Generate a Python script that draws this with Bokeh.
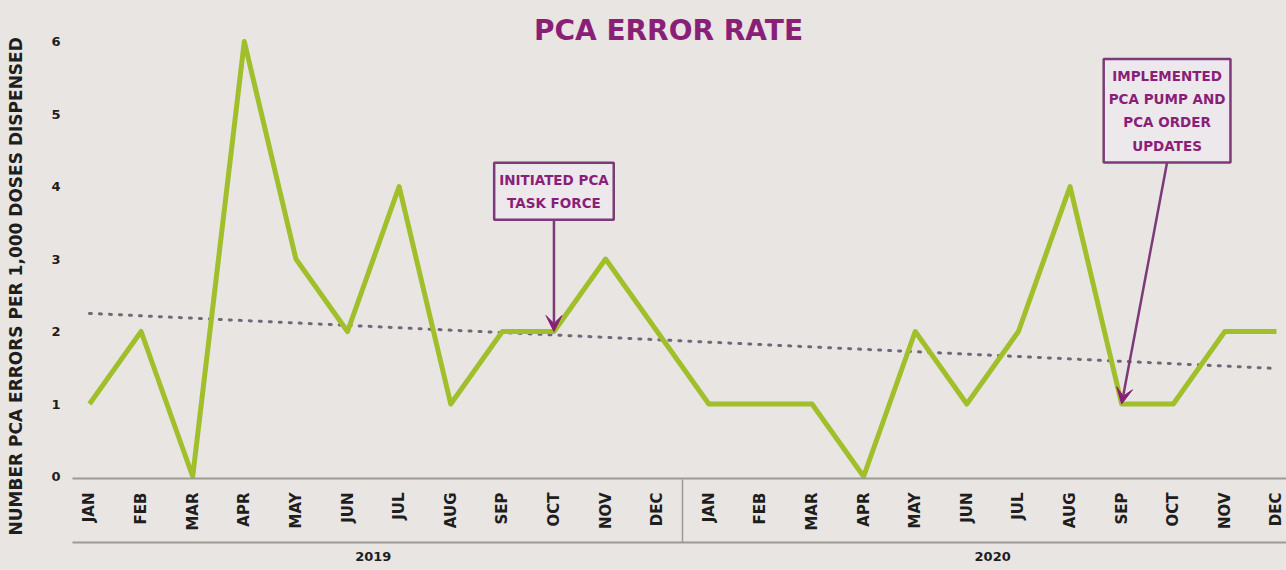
import math
from bokeh.plotting import figure
from bokeh.models import Range1d, FixedTicker, LinearAxis, Label, Arrow, VeeHead, Title
from bokeh.embed import file_html
from bokeh.resources import INLINE

# ---------------- data ----------------
months_2019 = ["JAN", "FEB", "MAR", "APR", "MAY", "JUN", "JUL", "AUG", "SEP", "OCT", "NOV", "DEC"]
months_2020 = ["JAN", "FEB", "MAR", "APR", "MAY", "JUN", "JUL", "AUG", "SEP", "OCT", "NOV", "DEC"]
years = ["2019", "2020"]
errors_2019 = [1, 2, 0, 6, 3, 2, 4, 1, 2, 2, 3, 2]
errors_2020 = [1, 1, 1, 0, 2, 1, 2, 4, 1, 1, 2, 2]
y_ticks = [0, 1, 2, 3, 4, 5, 6]
trend_start = 2.25   # dotted trend line, read at JAN 2019
trend_end = 1.49     # dotted trend line, read at DEC 2020

# annotations: text, target month index, target value, box anchor (bottom centre)
anno_text = ["INITIATED PCA\nTASK FORCE", "IMPLEMENTED\nPCA PUMP AND\nPCA ORDER\nUPDATES"]
anno_target_x = [9, 20]
anno_target_y = [2, 1]
anno_box_x = [9, 20.88]
anno_box_y = [3.54, 4.33]

title_text = "PCA ERROR RATE"
y_title = "NUMBER PCA ERRORS PER 1,000 DOSES DISPENSED"

# ---------------- derived ----------------
month_labels = months_2019 + months_2020
errors = errors_2019 + errors_2020
x = list(range(len(errors)))
n1 = len(months_2019)
year_centers = [(n1 - 1) / 2, n1 + (len(months_2020) - 1) / 2]
separator = [n1 - 0.5]

# ---------------- style ----------------
BG = "#e8e5e3"
GREEN = "#a0bf2a"
PURPLE = "#8a1f78"
BOX_PURPLE = "#7c3a78"
TREND = "#6f6878"
AXIS_GRAY = "#9c9a98"
TEXT = "#1e1e1e"
FONT = "DejaVu Sans"

p = figure(
    width=1286, height=570,
    x_range=Range1d(-0.329, 23.194), y_range=Range1d(-0.0276, 6.566),
    output_backend="svg", toolbar_location=None,
    min_border_left=72, min_border_right=0, min_border_top=0, min_border_bottom=92,
    background_fill_color=BG, border_fill_color=BG, outline_line_color=None,
)
p.xgrid.visible = False
p.ygrid.visible = False

# trend line
p.line([x[0], x[-1]], [trend_start, trend_end], line_color=TREND, line_width=3,
       line_dash="2 8", line_cap="round")
# data line
p.line(x, errors, line_color=GREEN, line_width=5, line_join="round")

# y axis
ya = p.yaxis[0]
ya.ticker = FixedTicker(ticks=y_ticks)
ya.axis_line_color = None
ya.major_tick_line_color = None
ya.minor_tick_line_color = None
ya.major_tick_out = 0
ya.major_tick_in = 0
ya.minor_tick_out = 0
ya.major_label_standoff = 12
ya.major_label_text_font = FONT
ya.major_label_text_font_style = "bold"
ya.major_label_text_font_size = "13px"
ya.major_label_text_color = TEXT
ya.axis_label = " "
ya.axis_label_standoff = 9
ya.axis_label_text_font_size = "10px"

# y title as a side title, started below the frame like the reference
p.add_layout(Title(text=y_title, align="left", offset=-57, standoff=0,
                   text_font=FONT, text_font_style="bold", text_font_size="17px",
                   text_color=TEXT), "left")

# month axis
xa = p.xaxis[0]
xa.ticker = FixedTicker(ticks=x, minor_ticks=[])
xa.major_label_overrides = {i: m for i, m in zip(x, month_labels)}
xa.major_label_orientation = math.pi / 2
xa.major_label_standoff = 14
xa.major_label_text_font = FONT
xa.major_label_text_font_style = "bold"
xa.major_label_text_font_size = "15px"
xa.major_label_text_color = TEXT
xa.major_tick_line_color = None
xa.minor_tick_line_color = None
xa.major_tick_out = 0
xa.major_tick_in = 0
xa.minor_tick_out = 0
xa.minor_tick_in = 0
xa.axis_line_color = AXIS_GRAY
xa.axis_line_width = 2
xa.axis_label = " "
xa.axis_label_standoff = 0
xa.axis_label_text_font_size = "6px"

# year axis (its minor tick, drawn inward, is the year separator)
ya2 = LinearAxis(
    ticker=FixedTicker(ticks=year_centers, minor_ticks=separator),
    major_label_overrides={c: yv for c, yv in zip(year_centers, years)},
    axis_line_color=AXIS_GRAY, axis_line_width=2,
    major_tick_line_color=None,
    minor_tick_line_color=AXIS_GRAY, minor_tick_line_width=1.5,
    minor_tick_in=63, minor_tick_out=0,
    major_tick_out=0, major_tick_in=0,
    major_label_standoff=9,
    major_label_text_font=FONT, major_label_text_font_style="bold",
    major_label_text_font_size="13px", major_label_text_color=TEXT,
)
p.add_layout(ya2, "below")

# main title (screen units relative to the frame)
p.add_layout(Label(x=596, y=448, x_units="screen", y_units="screen", text=title_text,
                   text_align="center", text_baseline="middle", text_font=FONT,
                   text_font_style="bold", text_font_size="28px", text_color=PURPLE))

# annotations
for t, tx, ty, bx, by in zip(anno_text, anno_target_x, anno_target_y, anno_box_x, anno_box_y):
    p.add_layout(Arrow(end=VeeHead(size=16, fill_color=PURPLE, line_color=PURPLE),
                       x_start=bx, y_start=by, x_end=tx, y_end=ty,
                       line_color=BOX_PURPLE, line_width=2.5))
    p.add_layout(Label(x=bx, y=by, text=t, text_align="center", text_baseline="bottom",
                       text_font=FONT, text_font_style="bold",
                       text_font_size="13.5px", text_color=PURPLE, text_line_height=1.45,
                       background_fill_color="#ece8ec", border_line_color=BOX_PURPLE,
                       border_line_width=2.5,
                       padding=dict(left=5, right=5, top=9, bottom=9)))

template = """
{% block preamble %}
<style>html, body { background-color: #e8e5e3; }</style>
{% endblock %}
"""
html = file_html(p, INLINE, title="PCA Error Rate", template=template)
open("out.html", "w").write(html)
